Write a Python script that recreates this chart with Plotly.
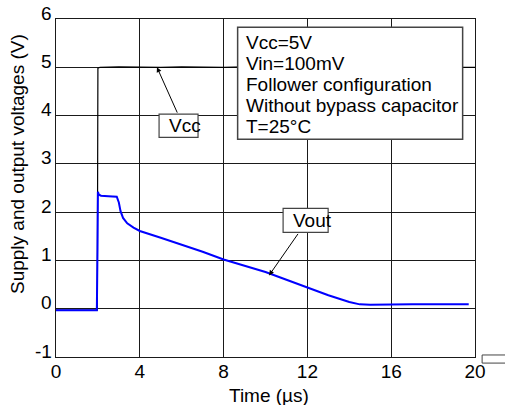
import plotly.graph_objects as go

VCC_TIME = [0, 1.97, 2.0, 2.1, 3, 4, 5, 6, 7, 8, 9, 10, 12, 14, 16, 18, 20]
VCC_VOLTS = [-0.03, -0.03, 4.98, 5.0, 5.01, 5.0, 5.0, 5.01, 5.0, 5.0, 5.01, 5.0, 5.0, 5.0, 5.01, 5.0, 5.0]

VOUT_TIME = [0, 1.95, 1.98, 2.0, 2.05, 2.15, 2.5, 2.9, 3.0, 3.08, 3.2, 3.4, 3.7,
             4, 5, 6, 7, 8, 9, 10, 11, 12, 13, 14, 14.5, 15, 16, 17, 18, 19, 19.7]
VOUT_VOLTS = [-0.03, -0.03, 1.2, 2.42, 2.36, 2.34, 2.33, 2.32, 2.2, 2.02, 1.88, 1.77, 1.68,
              1.61, 1.47, 1.33, 1.18, 1.02, 0.89, 0.76, 0.6, 0.44, 0.28, 0.14, 0.09, 0.08,
              0.09, 0.09, 0.09, 0.09, 0.09]

X_TICKS = [0, 4, 8, 12, 16, 20]
Y_TICKS = [-1, 0, 1, 2, 3, 4, 5, 6]
INFO_LINES = ["Vcc=5V", "Vin=100mV", "Follower configuration", "Without bypass capacitor", "T=25°C"]

FONT = "Arial, Liberation Sans, sans-serif"
GRID_COLOR = "#1a1a1a"
BOX_COLOR = "#444444"

fig = go.Figure()
fig.add_trace(
    go.Scatter(x=VCC_TIME, y=VCC_VOLTS, mode="lines", name="Vcc",
               line={"color": "#000000", "width": 1.2})
)
fig.add_trace(
    go.Scatter(x=VOUT_TIME, y=VOUT_VOLTS, mode="lines", name="Vout",
               line={"color": "#0000ff", "width": 2})
)

# info box
fig.add_shape(type="rect", x0=8.67, x1=19.41, y0=3.51, y1=5.83,
              line={"color": BOX_COLOR, "width": 1.5}, fillcolor="white", layer="above")
for i, line in enumerate(INFO_LINES):
    fig.add_annotation(x=8.97, y=5.52 - i * 0.435, text=line, showarrow=False,
                       xanchor="left", yanchor="middle",
                       font={"family": FONT, "size": 19, "color": "#000"})

# label boxes with arrows
fig.add_shape(type="rect", x0=4.92, x1=6.78, y0=3.55, y1=4.03,
              line={"color": BOX_COLOR, "width": 1.2}, fillcolor="white", layer="above")
fig.add_annotation(x=5.3, y=3.79, text="Vcc", showarrow=False, xanchor="left", yanchor="middle",
                   font={"family": FONT, "size": 19, "color": "#000"})
fig.add_annotation(x=4.82, y=5.0, ax=5.82, ay=4.03, axref="x", ayref="y", text="",
                   showarrow=True, arrowhead=2, arrowsize=1, arrowwidth=1, arrowcolor="#000")

fig.add_shape(type="rect", x0=10.84, x1=12.99, y0=1.58, y1=2.08,
              line={"color": BOX_COLOR, "width": 1.2}, fillcolor="white", layer="above")
fig.add_annotation(x=11.2, y=1.83, text="Vout", showarrow=False, xanchor="left", yanchor="middle",
                   font={"family": FONT, "size": 19, "color": "#000"})
fig.add_annotation(x=10.17, y=0.69, ax=11.6, ay=1.58, axref="x", ayref="y", text="",
                   showarrow=True, arrowhead=2, arrowsize=1, arrowwidth=1, arrowcolor="#000")

# stray box at the bottom-right corner
fig.add_shape(type="rect", xref="paper", yref="paper", x0=1.017, x1=1.2, y0=-0.018, y1=0.006,
              line={"color": BOX_COLOR, "width": 1}, fillcolor="rgba(0,0,0,0)")

# y tick labels sit just above their gridlines in the original
for v in Y_TICKS:
    fig.add_annotation(xref="paper", yref="y", x=0, y=v, text=str(v), showarrow=False,
                       xanchor="right", yanchor="middle", xshift=-2, yshift=6,
                       font={"family": FONT, "size": 19, "color": "#000"})

# axis titles
fig.add_annotation(xref="paper", yref="paper", x=0.508, y=-0.115, text="Time (µs)",
                   showarrow=False, xanchor="center", yanchor="middle",
                   font={"family": FONT, "size": 19, "color": "#000"})
fig.add_annotation(xref="paper", yref="paper", x=-0.093, y=0.571, text="Supply and output voltages (V)",
                   textangle=-90, showarrow=False, xanchor="center", yanchor="middle",
                   font={"family": FONT, "size": 19, "color": "#000"})

axis_style = {
    "showgrid": True,
    "gridcolor": GRID_COLOR,
    "gridwidth": 1,
    "showline": True,
    "linecolor": GRID_COLOR,
    "linewidth": 1,
    "mirror": True,
    "zeroline": False,
    "ticks": "",
    "tickfont": {"family": FONT, "size": 19, "color": "#000"},
}

fig.update_xaxes(range=[0, 20], tickvals=X_TICKS, ticklabelstandoff=-3, **axis_style)
fig.update_yaxes(range=[-1, 6], tickvals=Y_TICKS, showticklabels=False, **axis_style)

fig.update_layout(
    width=505,
    height=405,
    margin={"l": 56, "r": 30, "t": 19, "b": 48},
    plot_bgcolor="white",
    paper_bgcolor="white",
    showlegend=False,
    font={"family": FONT, "size": 19, "color": "#000"},
)

fig.write_html("out.html", config={"displayModeBar": False},
               post_script="document.body.style.margin = '0';")
